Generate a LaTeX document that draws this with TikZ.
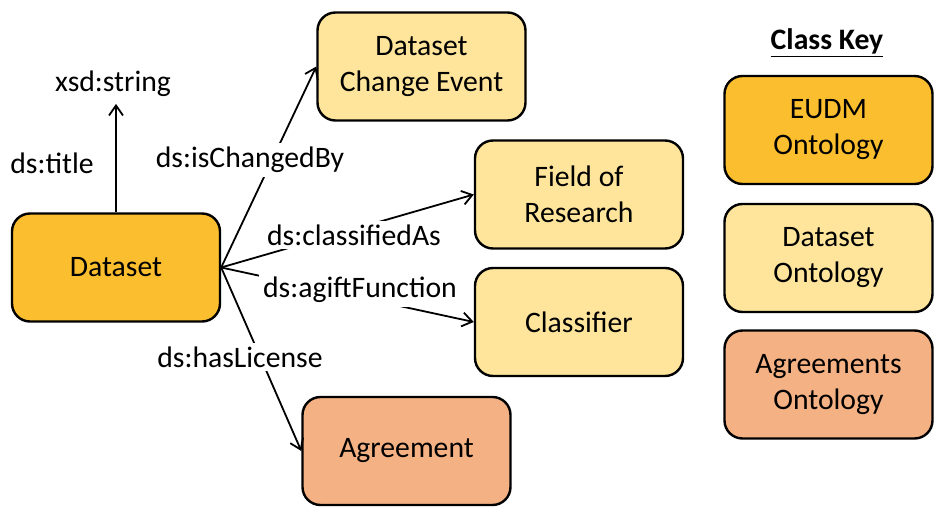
\documentclass[tikz,border=0pt]{standalone}
\usepackage{fontspec}
\setmainfont{Carlito}
\usetikzlibrary{arrows.meta}
\definecolor{eudmgold}{HTML}{FBBE2E}
\definecolor{dsyellow}{HTML}{FEE59B}
\definecolor{agsalmon}{HTML}{F4B183}
\tikzset{
  classbox/.style={draw=black, line width=1.2pt, rounded corners=9pt,
    minimum width=104pt, minimum height=54pt, align=center, inner sep=0pt},
  proplabel/.style={fill=white, inner sep=2pt},
  proparrow/.style={line width=0.9pt, -{Straight Barb[length=5pt,width=7pt]}}
}

\begin{document}
\begin{tikzpicture}[x=0.5pt, y=-0.5pt, font=\fontsize{14.85}{18}\selectfont]
			%%%%% START %%%%%
			\useasboundingbox (0, 0) rectangle (944, 518);
			
			\node[classbox, fill=eudmgold] (dataset) at (116, 267.5) {Dataset};
			\node[classbox, fill=dsyellow] (changeevent) at (421.5, 66.5) {Dataset\\Change Event};
			\node[classbox, fill=dsyellow] (research) at (579, 194.5) {Field of\\Research};
			\node[classbox, fill=dsyellow] (classifier) at (579, 322) {Classifier};
			\node[classbox, fill=agsalmon] (agreement) at (406.5, 451) {Agreement};
			
			\node (xsdstring) at (113, 84) {xsd:string};
			\node (title) at (52, 163) {ds:title};
			\draw[proparrow] (dataset.north) -- (dataset.north |- xsdstring.south);
			
			\draw[proparrow] (dataset.east) -- (changeevent.west);
			\draw[proparrow] (dataset.east) -- (research.west);
			\draw[proparrow] (dataset.east) -- (classifier.west);
			\draw[proparrow] (dataset.east) -- (agreement.west);
			
			\node[proplabel] (ischangedby) at (250, 160) {ds:isChangedBy};
			\node[proplabel] (classifiedas) at (354, 235) {ds:classifiedAs};
			\node[proplabel] (agiftfunction) at (360, 290) {ds:agiftFunction};
			\node[proplabel] (haslicense) at (240, 357) {ds:hasLicense};
			
			%% class key
			\node (classkey) at (827, 43) {\textbf{\underline{Class Key}}};
			\node[classbox, fill=eudmgold] (keyeudm) at (828.5, 130) {EUDM\\Ontology};
			\node[classbox, fill=dsyellow] (keydataset) at (828.5, 258) {Dataset\\Ontology};
			\node[classbox, fill=agsalmon] (keyagreements) at (828.5, 384.5) {Agreements\\Ontology};
			
			%%%%% END %%%%%
\end{tikzpicture}
\end{document}
